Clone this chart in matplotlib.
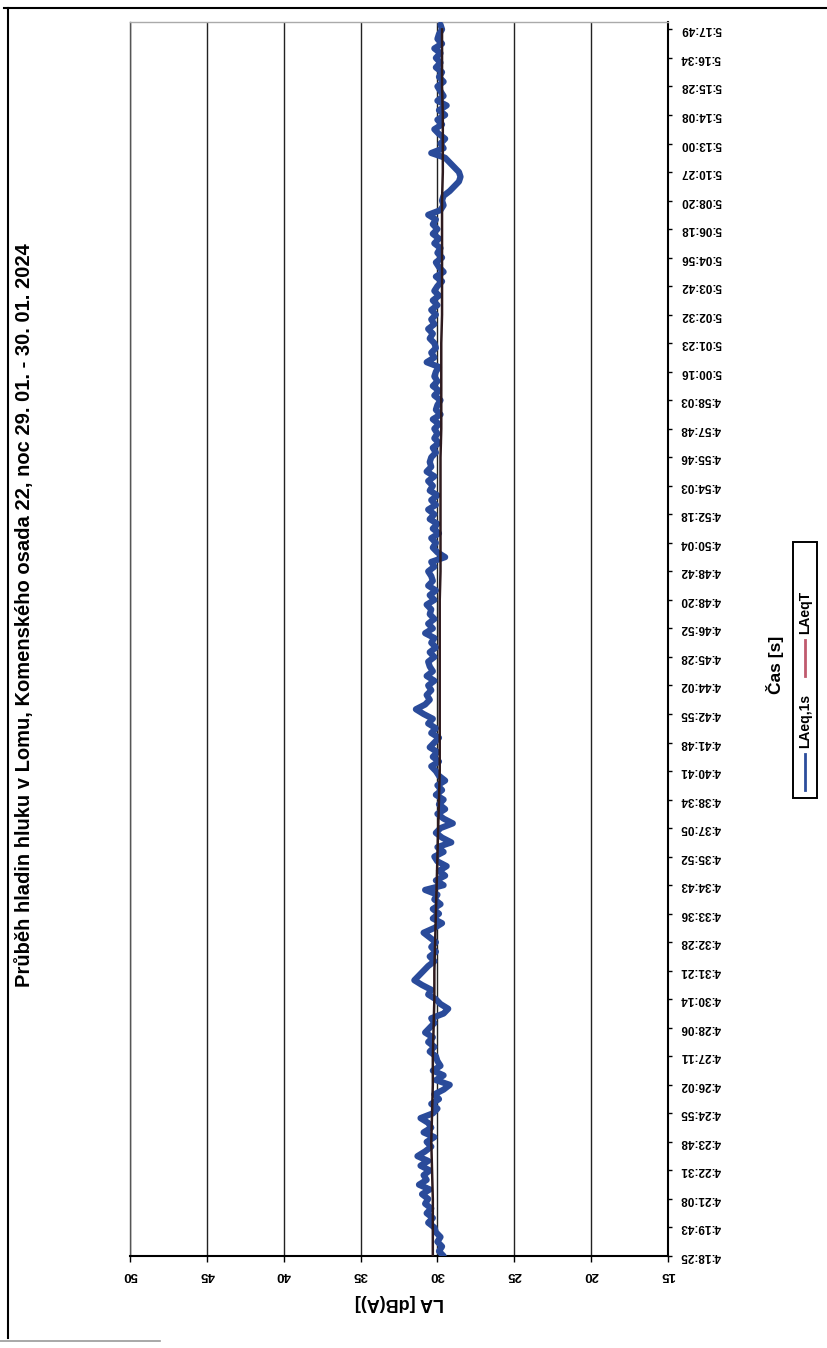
import matplotlib
matplotlib.use('Agg')
import matplotlib.pyplot as plt
from matplotlib.lines import Line2D
from matplotlib.patches import Rectangle
import numpy as np

plt.rcParams['font.family'] = ['Liberation Sans', 'DejaVu Sans']

title = "Průběh hladin hluku v Lomu, Komenského osada 22, noc 29. 01. - 30. 01. 2024"
series_names = ["LAeq,1s", "LAeqT"]
db_ticks = [50, 45, 40, 35, 30, 25, 20, 15]

time_labels = [
    "4:18:25", "4:19:43", "4:21:08", "4:22:31", "4:23:48", "4:24:55", "4:26:02",
    "4:27:11", "4:28:06", "4:30:14", "4:31:21", "4:32:28", "4:33:36", "4:34:43",
    "4:35:52", "4:37:05", "4:38:34", "4:40:41", "4:41:48", "4:42:55", "4:44:02",
    "4:45:28", "4:46:52", "4:48:20", "4:48:42", "4:50:04", "4:52:18", "4:54:03",
    "4:55:46", "4:57:48", "4:58:03", "5:00:16", "5:01:23", "5:02:32", "5:03:42",
    "5:04:56", "5:06:18", "5:08:20", "5:10:27", "5:13:00", "5:14:08", "5:15:28",
    "5:16:34", "5:17:49",
]
samples_per_label = 6

# LAeq,1s (6 readings per labelled interval)
laeq_1s = [
    29.6, 29.9, 29.7, 30.0, 29.8, 30.1,
    30.2, 30.6, 30.3, 30.7, 30.4, 30.8,
    30.6, 31.0, 30.5, 31.2, 30.7, 30.9,
    30.5, 31.1, 30.6, 31.3, 30.8, 30.4,
    30.7, 30.2, 30.9, 30.4, 30.6, 31.1,
    30.3, 30.0, 30.4, 29.9, 30.2, 29.6,
    29.2, 30.1, 29.6, 30.3, 29.8, 30.0,
    30.1, 30.5, 30.2, 30.6, 30.3, 30.8,
    30.5, 30.2, 30.4, 29.6, 29.3, 29.8,
    30.1, 30.6, 30.4, 31.0, 31.5, 31.2,
    30.9, 30.6, 30.2, 30.5, 30.1, 30.4,
    30.1, 30.5, 30.9, 30.2, 29.7, 30.3,
    29.9, 30.3, 29.8, 30.2, 30.0, 30.8,
    29.6, 30.1, 29.5, 29.9, 29.4, 30.0,
    30.2, 29.6, 30.0, 29.1, 29.7, 30.1,
    29.8, 29.0, 29.6, 30.0, 29.5, 29.9,
    29.6, 30.1, 29.7, 30.0, 29.5, 29.9,
    30.1, 30.4, 29.9, 30.3, 30.0, 30.5,
    30.2, 29.9, 30.4, 30.1, 30.6, 30.3,
    30.9, 31.4, 30.8, 30.5, 30.7, 30.4,
    30.6, 30.2, 30.7, 30.3, 30.5, 30.6,
    30.2, 30.5, 30.1, 30.4, 30.2, 30.8,
    30.3, 30.6, 30.2, 30.5, 30.4, 30.7,
    30.2, 30.5, 30.1, 30.6, 30.3, 30.4,
    30.6, 30.2, 30.4, 29.5, 30.0, 30.3,
    30.1, 30.4, 29.9, 30.3, 30.0, 30.5,
    30.2, 30.6, 30.1, 30.4, 30.0, 30.5,
    30.3, 30.6, 30.2, 30.7, 30.4, 30.5,
    30.4, 30.1, 30.3, 29.9, 30.2, 30.0,
    30.2, 29.9, 30.3, 29.8, 30.1, 30.0,
    29.8, 30.2, 29.9, 30.3, 30.0, 30.2,
    30.1, 29.9, 30.7, 30.2, 30.4, 30.1,
    30.2, 30.5, 30.3, 30.6, 30.2, 30.4,
    30.1, 30.4, 30.0, 30.3, 29.9, 30.2,
    30.0, 29.7, 30.1, 29.6, 29.9, 30.1,
    29.7, 30.0, 29.8, 30.2, 29.9, 30.3,
    30.0, 30.3, 30.1, 30.6, 29.8, 29.6,
    29.7, 29.6, 29.2, 28.9, 28.6, 28.5,
    28.6, 28.9, 29.2, 29.5, 30.4, 29.6,
    29.8, 29.5, 29.9, 30.2, 29.7, 30.0,
    29.5, 29.9, 29.4, 30.0, 29.6, 29.8,
    30.0, 29.6, 29.9, 29.7, 30.1, 29.8,
    30.1, 29.8, 30.2, 29.7, 30.0, 29.9,
    29.7, 29.8,
]

# LAeqT read at each labelled time
laeq_t = [
    30.3, 30.3, 30.3, 30.35, 30.4, 30.35, 30.3, 30.3, 30.25, 30.2, 30.2,
    30.15, 30.1, 30.05, 30.0, 29.95, 29.9, 29.85, 29.85, 29.85, 29.85, 29.85,
    29.85, 29.85, 29.8, 29.8, 29.8, 29.8, 29.8, 29.75, 29.75, 29.75, 29.75,
    29.7, 29.7, 29.7, 29.7, 29.7, 29.65, 29.65, 29.65, 29.7, 29.7, 29.7,
]

W, H = 828, 1348
def fx(px):
    return px / W
def fy(py):
    return 1 - py / H

fig = plt.figure(figsize=(W / 100, H / 100), dpi=100)
fig.patch.set_facecolor('white')

# plot area (page rotated: dB horizontal, time vertical)
ax_l, ax_r, ax_t, ax_b = 130, 668, 22, 1256
ax = fig.add_axes([fx(ax_l), fy(ax_b), (ax_r - ax_l) / W, (ax_b - ax_t) / H])

idx = np.arange(len(laeq_1s))
idx_t = np.arange(len(laeq_t)) * samples_per_label

ax.plot(laeq_1s, idx, color='#2a4b9a', lw=4.5, solid_joinstyle='round',
        solid_capstyle='round', zorder=3)
ax.plot(laeq_t, idx_t, color='#2e1a1e', lw=1.8, zorder=4)

ax.set_xlim(db_ticks[0], db_ticks[-1])
ax.set_ylim(0, 43.26 * samples_per_label)

ax.set_xticks(db_ticks)
ax.set_xticklabels([str(v) for v in db_ticks], rotation=180, fontsize=9.5,
                   fontweight='bold', ha='center', va='top')
ax.yaxis.tick_right()
ax.set_yticks(np.arange(len(time_labels)) * samples_per_label)
ax.set_yticklabels(time_labels, rotation=180, fontsize=8.5, fontweight='bold',
                   ha='left', va='center')
ax.tick_params(axis='x', direction='out', length=4, width=1, pad=5, colors='black')
ax.tick_params(axis='y', direction='out', length=3, width=1, pad=6, colors='black')

ax.grid(axis='x', color='#222222', lw=1.0, zorder=1)
ax.set_axisbelow(True)

for side in ['bottom', 'right']:
    ax.spines[side].set_color('black')
    ax.spines[side].set_linewidth(1.5)
ax.spines['left'].set_color('#555555')
ax.spines['left'].set_linewidth(1.0)
ax.spines['top'].set_color('#aaaaaa')
ax.spines['top'].set_linewidth(1.0)

ax.set_xlabel("LA [dB(A)]", rotation=180, fontsize=13, fontweight='bold', va='top')
ax.xaxis.set_label_coords(0.5, (ax_b - 1294) / (ax_b - ax_t))
ax.yaxis.set_label_position('right')
ax.set_ylabel("Čas [s]", rotation=90, fontsize=12.5, fontweight='bold',
              va='center', ha='center')
ax.yaxis.set_label_coords((775 - ax_l) / (ax_r - ax_l), (ax_b - 665) / (ax_b - ax_t))

# title (rotated with the page)
fig.text(fx(25), fy(615), title, rotation=90, ha='center', va='center',
         fontsize=14.5, fontweight='bold')

# chart-area frame remnants of the scanned page
fig.add_artist(Line2D([fx(4), fx(828)], [fy(8), fy(8)], color='black', lw=1.5))
fig.add_artist(Line2D([fx(8), fx(8)], [fy(8), fy(1338)], color='black', lw=1.5))
fig.add_artist(Line2D([fx(0), fx(160)], [fy(1341), fy(1341)], color='#999999', lw=1.2))

# legend (rotated, reading upward)
lx = 805
lb, lt = 798, 542
fig.add_artist(Rectangle((fx(793), fy(lb)), (817 - 793) / W, (lb - lt) / H,
                         fill=False, edgecolor='black', lw=1.4,
                         transform=fig.transFigure))
y = lb - 8
fig.add_artist(Line2D([fx(lx), fx(lx)], [fy(y), fy(y - 36)], color='#2c4d9c', lw=2))
y -= 42
fig.text(fx(lx), fy(y), series_names[0], rotation=90, ha='center', va='bottom',
         fontsize=10, fontweight='bold')
y -= 72
fig.add_artist(Line2D([fx(lx), fx(lx)], [fy(y), fy(y - 36)], color='#c05a6e', lw=2))
y -= 42
fig.text(fx(lx), fy(y), series_names[1], rotation=90, ha='center', va='bottom',
         fontsize=10, fontweight='bold')

fig.savefig('out.png', dpi=100, facecolor='white')
